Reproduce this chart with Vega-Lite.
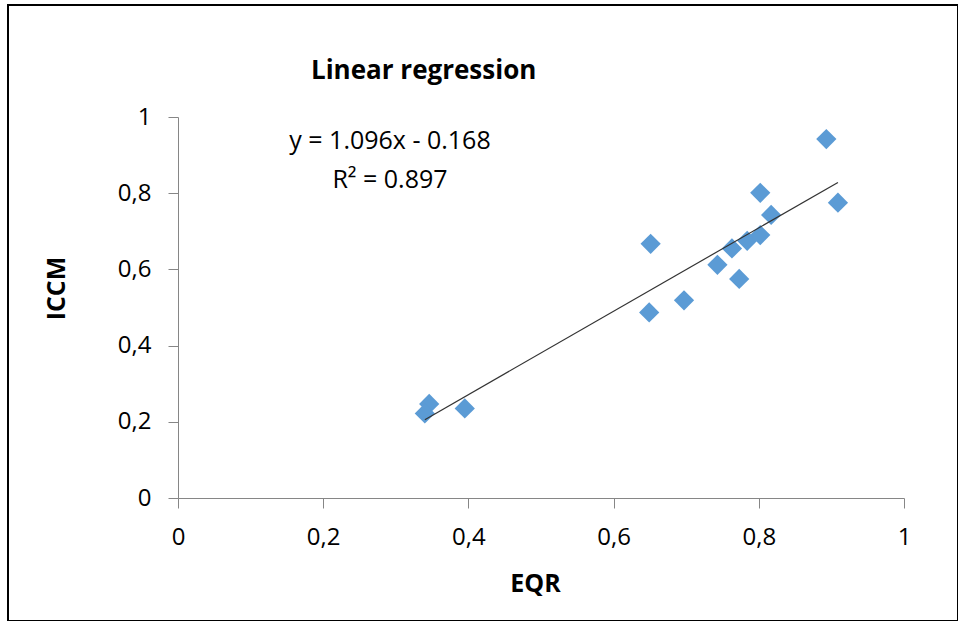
{
  "$schema": "https://vega.github.io/schema/vega-lite/v6.json",
  "width": 950,
  "height": 616,
  "autosize": {"type": "none"},
  "padding": {"left": 8, "top": 5, "right": 0, "bottom": 0},
  "background": "white",
  "config": {
    "view": {"stroke": "#000000", "strokeWidth": 2},
    "font": "Open Sans"
  },
  "title": {
    "text": "Linear regression",
    "anchor": "start",
    "frame": "group",
    "orient": "top",
    "offset": 0,
    "dx": 303,
    "dy": 100,
    "baseline": "alphabetic",
    "font": "Open Sans",
    "fontSize": 26,
    "fontWeight": "bold",
    "color": "#000000"
  },
  "data": {
    "values": [
      {"EQR": 0.346, "ICCM": 0.247},
      {"EQR": 0.340, "ICCM": 0.222},
      {"EQR": 0.395, "ICCM": 0.235},
      {"EQR": 0.651, "ICCM": 0.667},
      {"EQR": 0.649, "ICCM": 0.487},
      {"EQR": 0.697, "ICCM": 0.519},
      {"EQR": 0.743, "ICCM": 0.612},
      {"EQR": 0.773, "ICCM": 0.575},
      {"EQR": 0.763, "ICCM": 0.655},
      {"EQR": 0.784, "ICCM": 0.675},
      {"EQR": 0.802, "ICCM": 0.690},
      {"EQR": 0.802, "ICCM": 0.801},
      {"EQR": 0.817, "ICCM": 0.743},
      {"EQR": 0.893, "ICCM": 0.942},
      {"EQR": 0.909, "ICCM": 0.775}
    ]
  },
  "layer": [
    {
      "mark": {"type": "point", "shape": "diamond", "filled": true, "size": 410, "color": "#5B9BD5", "opacity": 1, "strokeWidth": 0},
      "encoding": {
        "x": {
          "field": "EQR",
          "type": "quantitative",
          "scale": {"domain": [0, 1], "range": [170, 896], "nice": false, "zero": false},
          "axis": {
            "orient": "bottom",
            "offset": -123,
            "values": [0, 0.2, 0.4, 0.6, 0.8, 1],
            "format": "~g",
            "labelExpr": "replace(datum.label, '.', ',')",
            "grid": false,
            "domainColor": "#868686",
            "domainWidth": 1,
            "tickColor": "#868686",
            "tickSize": 10,
            "tickWidth": 1,
            "labelFont": "Open Sans",
            "labelFontSize": 24,
            "labelColor": "#000000",
            "labelPadding": 17,
            "labelFlush": false,
            "labelOverlap": false,
            "title": "EQR",
            "titleFont": "Open Sans",
            "titleFontSize": 25,
            "titleFontWeight": "bold",
            "titleColor": "#000000",
            "titleX": 527,
            "titleY": 73,
            "titleBaseline": "top"
          }
        },
        "y": {
          "field": "ICCM",
          "type": "quantitative",
          "scale": {"domain": [0, 1], "range": [493, 112], "nice": false, "zero": false},
          "axis": {
            "orient": "left",
            "offset": -170,
            "values": [0, 0.2, 0.4, 0.6, 0.8, 1],
            "format": "~g",
            "labelExpr": "replace(datum.label, '.', ',')",
            "grid": false,
            "domainColor": "#868686",
            "domainWidth": 1,
            "tickColor": "#868686",
            "tickSize": 10,
            "tickWidth": 1,
            "labelFont": "Open Sans",
            "labelFontSize": 24,
            "labelColor": "#000000",
            "labelPadding": 17,
            "labelFlush": false,
            "labelOverlap": false,
            "title": "ICCM",
            "titleFont": "Open Sans",
            "titleFontSize": 25,
            "titleFontWeight": "bold",
            "titleColor": "#000000",
            "titleX": -109,
            "titleY": 283
          }
        }
      }
    },
    {
      "transform": [{"regression": "ICCM", "on": "EQR"}],
      "mark": {"type": "line", "color": "#333333", "strokeWidth": 1.2},
      "encoding": {
        "x": {"field": "EQR", "type": "quantitative"},
        "y": {"field": "ICCM", "type": "quantitative"}
      }
    },
    {
      "data": {"values": [{"eq": "y = 1.096x - 0.168"}]},
      "mark": {
        "type": "text",
        "text": ["y = 1.096x - 0.168", "R² = 0.897"],
        "font": "Open Sans",
        "fontSize": 25,
        "lineHeight": 39,
        "align": "center",
        "baseline": "middle",
        "color": "#000000"
      },
      "encoding": {
        "x": {"datum": 0.292},
        "y": {"datum": 0.937}
      }
    }
  ]
}
